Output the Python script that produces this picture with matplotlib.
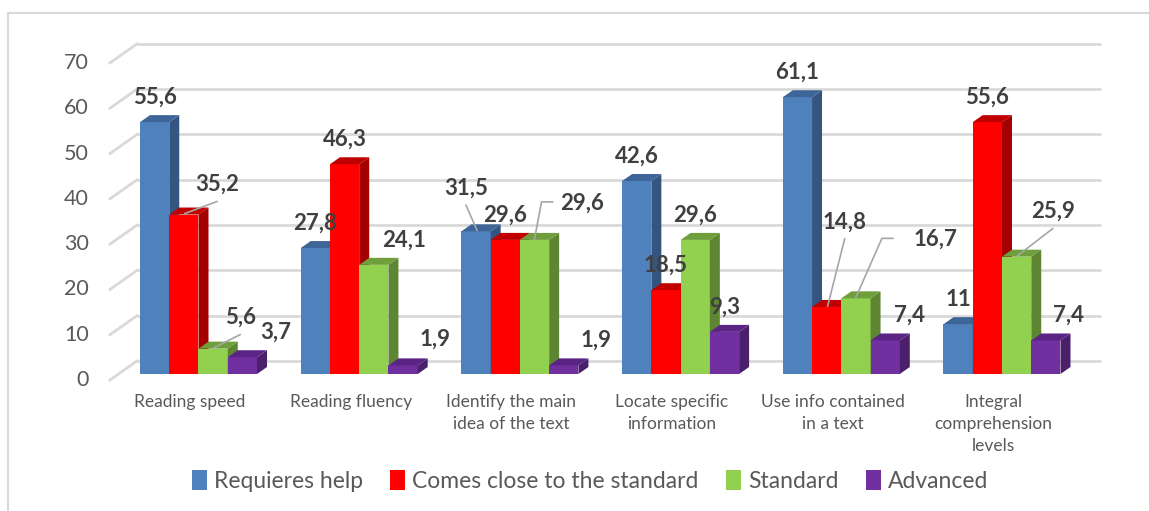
import matplotlib.pyplot as plt
from matplotlib.patches import Polygon, Rectangle, Patch
from matplotlib.lines import Line2D

plt.rcParams['font.family'] = ['Lato', 'DejaVu Sans']

categories = ["Reading speed", "Reading fluency", "Identify the main\nidea of the text",
              "Locate specific\ninformation", "Use info contained\nin a text",
              "Integral\ncomprehension\nlevels"]
series = ["Requieres help", "Comes close to the standard", "Standard", "Advanced"]
requieres_help = [55.6, 27.8, 31.5, 42.6, 61.1, 11]
comes_close = [35.2, 46.3, 29.6, 18.5, 14.8, 55.6]
standard = [5.6, 24.1, 29.6, 29.6, 16.7, 25.9]
advanced = [3.7, 1.9, 1.9, 9.3, 7.4, 7.4]
yticks = [0, 10, 20, 30, 40, 50, 60, 70]

values = [requieres_help, comes_close, standard, advanced]

# front / side / top colours of each series
face = ['#4f81bd', '#ff0000', '#92d050', '#7030a0']
side = ['#34557f', '#a50000', '#5e8632', '#4a1f6b']
top = ['#3e6598', '#c00000', '#6f9e3c', '#5a2485']

# label nudges in pixels (right, up) for labels Excel moved off the bar
nudge = {(0, 1): (33, 5), (0, 2): (27, 6), (0, 3): (33, 0),
         (1, 2): (30, 0), (1, 3): (32, 1),
         (2, 0): (-10, 18), (2, 2): (48, 12), (2, 3): (32, 0),
         (4, 1): (18, 60), (4, 2): (80, 34), (4, 3): (24, 0),
         (5, 2): (36, 20), (5, 3): (23, 0)}
# leader lines: 0 = straight from under the label, n = elbow starting n px left of label
leader = {(0, 1): 0, (0, 2): 0, (2, 0): 0, (4, 1): 0, (5, 2): 0, (2, 2): 30, (4, 2): 43}

PX = 1 / 160.7   # x data units per pixel
PY = 1 / 4.53    # y data units per pixel
X0 = 198.5       # pixel x of first group centre
Y0 = 374         # pixel y of bar bottoms

fig = plt.figure(figsize=(11.49, 5.11), dpi=100)
ax = fig.add_axes([0, 0, 1, 1])
ax.set_xlim(-X0 * PX, (1149 - X0) * PX)
ax.set_ylim((Y0 - 511) * PY, Y0 * PY)
ax.axis('off')

grid = '#d9d9d9'
for v in yticks:
    ax.plot([(137 - X0) * PX, (1101 - X0) * PX], [v + 13 * PY] * 2, color=grid, lw=2, zorder=1,
            solid_capstyle='butt')
    ax.plot([(110 - X0) * PX, (137 - X0) * PX], [v - 6 * PY, v + 13 * PY], color=grid, lw=2, zorder=1)
    ax.text((89 - X0) * PX, v - 6 * PY, str(v), ha='right', va='center', fontsize=15.5, color='#595959')

bw = 29.25 * PX
ddx, ddy = 10 * PX, 7 * PY
for g in range(len(categories)):
    for s in range(4):
        v = values[s][g]
        x0 = g + (s - 2) * bw
        ax.add_patch(Rectangle((x0, 0), bw, v, facecolor=face[s], edgecolor='none', zorder=2))
        ax.add_patch(Polygon([(x0 + bw, 0), (x0 + bw + ddx, ddy), (x0 + bw + ddx, v + ddy), (x0 + bw, v)],
                             facecolor=side[s], edgecolor='none', zorder=2))
        ax.add_patch(Polygon([(x0, v), (x0 + bw, v), (x0 + bw + ddx, v + ddy), (x0 + ddx, v + ddy)],
                             facecolor=top[s], edgecolor='none', zorder=2))

for g in range(len(categories)):
    for s in range(4):
        v = values[s][g]
        cx = g + (s - 1.5) * bw
        dx, dy = nudge.get((g, s), (0, 0))
        lx = cx + dx * PX
        ly = v + (25 + dy) * PY
        ax.text(lx, ly, f"{v:g}".replace('.', ','), ha='center', va='center', fontsize=16,
                fontweight='bold', color='#404040', zorder=4)
        if (g, s) in leader:
            a = leader[(g, s)]
            if a == 0:
                xs = [lx, cx + PX]
                ys = [ly - 17 * PY, v + PY]
            else:
                xs = [lx - a * PX, lx - (a + 11) * PX, cx]
                ys = [ly + PY, ly + PY, v + PY]
            ax.plot(xs, ys, color='#a6a6a6', lw=1.2, zorder=3)

for g, name in enumerate(categories):
    ax.text(g - 8.5 * PX, (Y0 - 394) * PY, name, ha='center', va='top', fontsize=12.5,
            color='#595959', linespacing=1.45)

handles = [Patch(facecolor=face[s], edgecolor='none', label=series[s]) for s in range(4)]
fig.legend(handles=handles, loc='center', bbox_to_anchor=(590 / 1149, 1 - 481 / 511), ncol=4,
           frameon=False, fontsize=16.5, handlelength=0.65, handleheight=1.0, handletextpad=0.3,
           columnspacing=1.2, labelcolor='#595959')

fig.add_artist(Line2D([8 / 1149, 8 / 1149], [0, 1 - 13 / 511], color=grid, lw=1.5))
fig.add_artist(Line2D([8 / 1149, 1], [1 - 13 / 511, 1 - 13 / 511], color=grid, lw=1.5))

fig.savefig('out.png', dpi=100)
